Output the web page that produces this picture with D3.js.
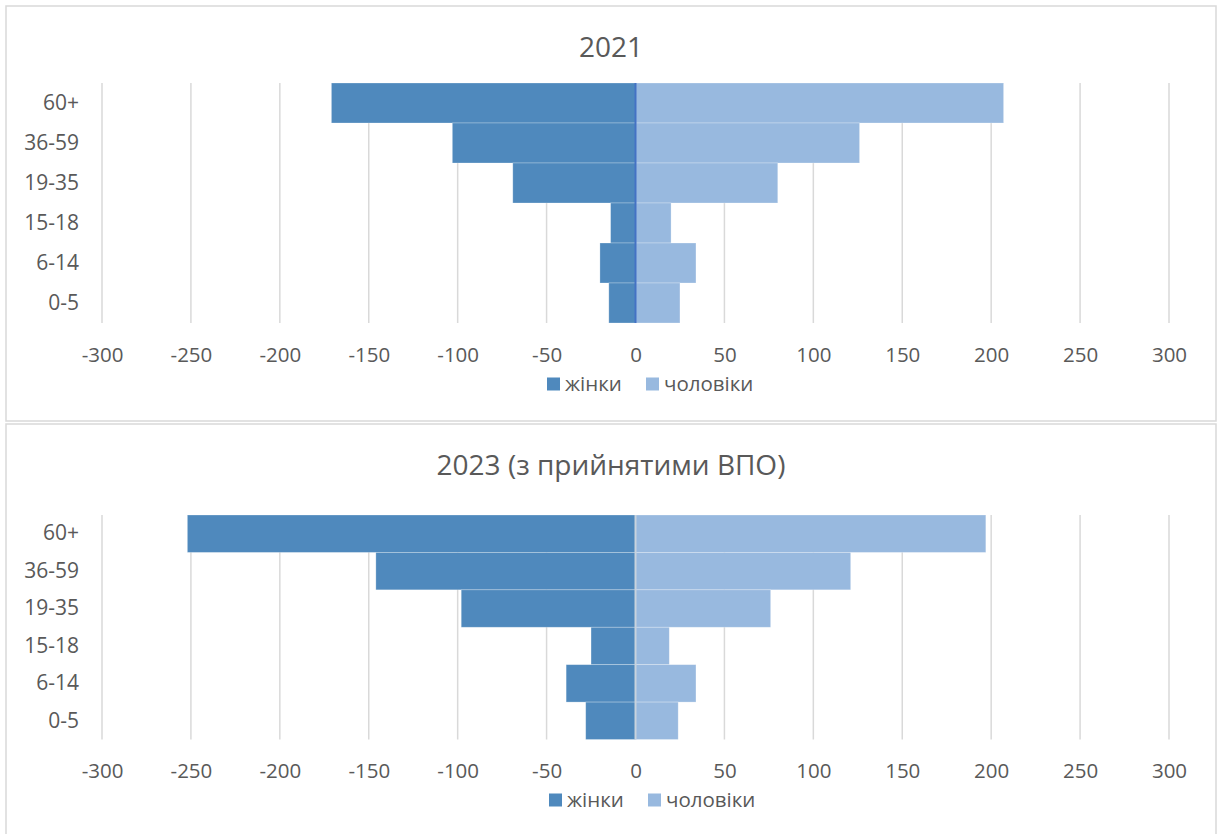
<!DOCTYPE html>
<html>
<head>
<meta charset="utf-8">
<script src="https://cdn.jsdelivr.net/npm/d3@7"></script>
<style>
  html, body { margin: 0; padding: 0; background: #ffffff; }
  svg { display: block; }
  text { font-family: "Open Sans", "Noto Sans", sans-serif; fill: #595959; }
</style>
</head>
<body>
<svg id="chart" width="1218" height="834"></svg>
<script>
// ---- data ----
const ageGroups = ["60+", "36-59", "19-35", "15-18", "6-14", "0-5"];
const women2021 = [-171, -103, -69, -14, -20, -15];
const men2021   = [207, 126, 80, 20, 34, 25];
const women2023 = [-252, -146, -98, -25, -39, -28];
const men2023   = [197, 121, 76, 19, 34, 24];
const xTicks = [-300, -250, -200, -150, -100, -50, 0, 50, 100, 150, 200, 250, 300];
const seriesNames = ["жінки", "чоловіки"];
const titles = ["2021", "2023 (з прийнятими ВПО)"];

const colWomen = "#4f89bd";
const colMen = "#98b9df";

const svg = d3.select("#chart");

function drawPanel(cfg) {
  const g = svg.append("g");
  // frame
  g.append("rect")
    .attr("x", cfg.box[0]).attr("y", cfg.box[1])
    .attr("width", cfg.box[2]).attr("height", cfg.box[3])
    .attr("fill", "#ffffff").attr("stroke", "#d9d9d9").attr("stroke-width", 1.5);

  const x = d3.scaleLinear().domain([-300, 300]).range([102, 1169]);
  const y = d3.scaleBand().domain(ageGroups).range([cfg.top, cfg.bottom]).padding(0);

  // gridlines
  g.append("g").selectAll("line").data(xTicks).join("line")
    .attr("x1", d => x(d)).attr("x2", d => x(d))
    .attr("y1", cfg.top).attr("y2", cfg.bottom)
    .attr("stroke", "#d9d9d9").attr("stroke-width", 1.5);

  const rows = ageGroups.map((a, i) => ({ age: a, w: cfg.women[i], m: cfg.men[i] }));

  // bars
  g.append("g").selectAll("rect").data(rows).join("rect")
    .attr("x", d => x(d.w)).attr("width", d => x(0) - x(d.w))
    .attr("y", d => y(d.age)).attr("height", y.bandwidth())
    .attr("fill", colWomen).attr("stroke", "#ffffff").attr("stroke-opacity", 0.35).attr("stroke-width", 0.75);
  g.append("g").selectAll("rect").data(rows).join("rect")
    .attr("x", x(0)).attr("width", d => x(d.m) - x(0))
    .attr("y", d => y(d.age)).attr("height", y.bandwidth())
    .attr("fill", colMen).attr("stroke", "#ffffff").attr("stroke-opacity", 0.35).attr("stroke-width", 0.75);

  // zero axis line
  g.append("line")
    .attr("x1", x(0)).attr("x2", x(0))
    .attr("y1", cfg.top).attr("y2", cfg.bottom)
    .attr("stroke", cfg.zeroColor).attr("stroke-width", 2);

  // x axis
  const xa = g.append("g").attr("transform", `translate(0,${cfg.bottom})`)
    .call(d3.axisBottom(x).tickValues(xTicks).tickSize(0).tickPadding(24).tickFormat(d => String(d)));
  xa.select(".domain").remove();
  xa.selectAll("text").style("font-size", "20.5px").attr("fill", "#595959")
    .style("font-family", '"Open Sans", sans-serif');

  // y axis
  const ya = g.append("g").attr("transform", `translate(102,0)`)
    .call(d3.axisLeft(y).tickSize(0).tickPadding(23));
  ya.select(".domain").remove();
  ya.selectAll("text").style("font-size", "21px").attr("fill", "#595959")
    .style("font-family", '"Open Sans", sans-serif');

  // title
  g.append("text").attr("x", 611).attr("y", cfg.titleY)
    .attr("text-anchor", "middle").style("font-size", "28px").text(cfg.title);

  // legend
  const lg = g.append("g").attr("transform", `translate(${cfg.legendX},${cfg.legendY})`);
  const items = [
    { name: seriesNames[0], color: colWomen, dx: 0 },
    { name: seriesNames[1], color: colMen, dx: 99 }
  ];
  const it = lg.selectAll("g").data(items).join("g").attr("transform", d => `translate(${d.dx},0)`);
  it.append("rect").attr("x", 0).attr("y", -6.5).attr("width", 13).attr("height", 13).attr("fill", d => d.color);
  it.append("text").attr("x", 18).attr("y", 0).attr("dy", "0.36em")
    .style("font-size", "20.5px").text(d => d.name);
}

drawPanel({
  box: [6, 6, 1210, 415], top: 83, bottom: 323,
  women: women2021, men: men2021, title: titles[0], titleY: 57,
  zeroColor: "#4472c4", legendX: 547, legendY: 384
});
drawPanel({
  box: [6, 424, 1210, 416], top: 515, bottom: 739.5,
  women: women2023, men: men2023, title: titles[1], titleY: 475,
  zeroColor: "#c9d3dd", legendX: 549, legendY: 800
});
</script>
</body>
</html>
